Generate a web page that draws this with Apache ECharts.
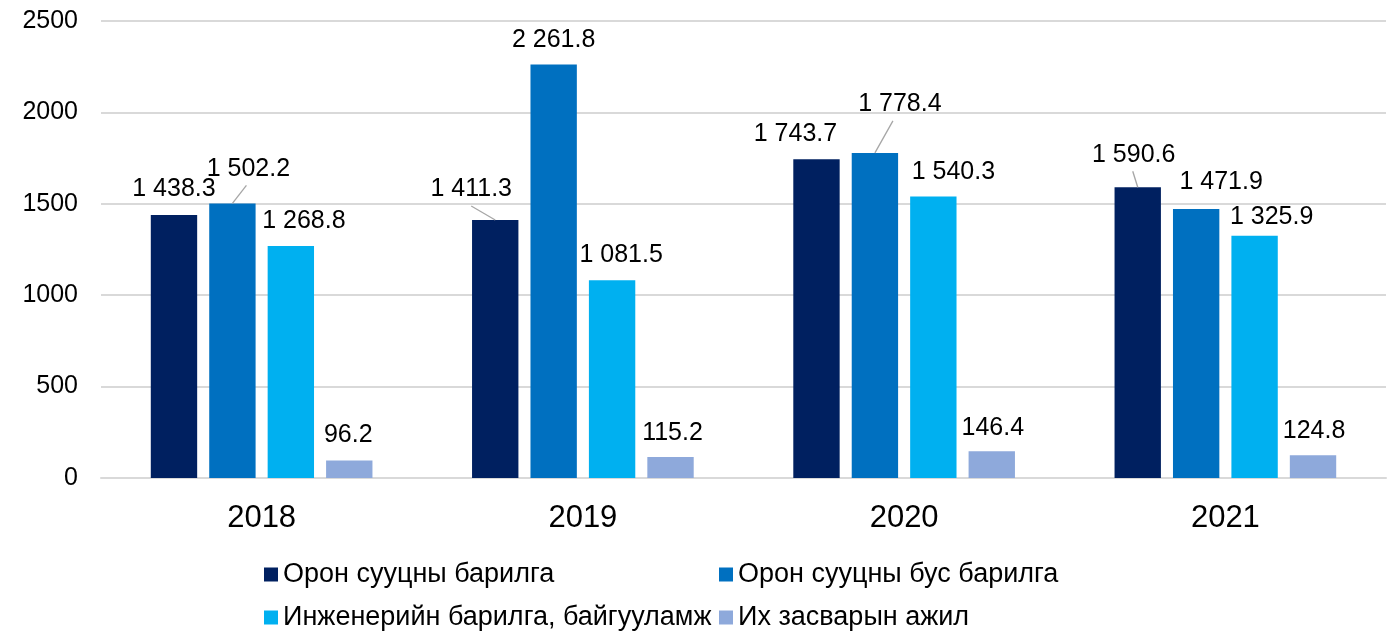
<!DOCTYPE html>
<html lang="mn">
<head>
    <meta charset="UTF-8">
    <title>Барилга угсралтын ажил</title>
    <script type="text/javascript" src="https://cdn.jsdelivr.net/npm/echarts@6/dist/echarts.min.js"></script>
    <style>
        html, body { margin: 0; padding: 0; background: #fff; }
        #chart { width: 1391px; height: 631px; }
    </style>
</head>
<body>
<div id="chart"></div>
<script type="text/javascript">
    var years = ['2018', '2019', '2020', '2021'];
    var seriesNames = ['Орон сууцны барилга', 'Орон сууцны бус барилга', 'Инженерийн барилга, байгууламж', 'Их засварын ажил'];
    var residential = [1438.3, 1411.3, 1743.7, 1590.6];
    var nonResidential = [1502.2, 2261.8, 1778.4, 1471.9];
    var engineering = [1268.8, 1081.5, 1540.3, 1325.9];
    var repair = [96.2, 115.2, 146.4, 124.8];
    var yTicks = [0, 500, 1000, 1500, 2000, 2500];
    var colors = ['#002060', '#0070C0', '#00B0F0', '#8EA9DB'];
    var allValues = [residential, nonResidential, engineering, repair];

    var BAR_GAP = 0.26, CAT_GAP = 0.31, LABEL_DIST = 11;

    // label nudges (series -> year -> [dx, dy, leader end x shift])
    var nudge = [
        [[0, -2, 0], [-24, -7, 0], [-21, -2, 0], [-4, -9, -1]],
        [[16, -11, -2], [0, -1, 0], [25, -25, -7], [25, -3, 0]],
        [[13, -1, 0], [9, -2, 0], [20, -1, 0], [17, 5, 0]],
        [[-1, -2, 0], [2, 0, 0], [1, 0, 0], [1, -1, 0]]
    ];
    // labels that get a leader line: [series, year]
    var leaders = [[1, 0], [0, 1], [1, 2], [0, 3]];

    function fmt(v) {
        var parts = v.toFixed(1).split('.');
        var intPart = parts[0].replace(/\B(?=(\d{3})+(?!\d))/g, ' ');
        return intPart + '.' + parts[1];
    }

    function makeSeries(idx, values) {
        return {
            name: seriesNames[idx],
            type: 'bar',
            barGap: (BAR_GAP * 100) + '%',
            barCategoryGap: (CAT_GAP * 100) + '%',
            itemStyle: { color: colors[idx] },
            label: {
                show: true,
                position: 'top',
                distance: LABEL_DIST,
                color: '#000',
                fontSize: 25,
                fontFamily: 'Liberation Sans, Arial, sans-serif',
                formatter: function (p) { return fmt(p.value); }
            },
            labelLayout: function (p) {
                var n = nudge[idx][p.dataIndex];
                return { dx: n[0], dy: n[1] };
            },
            data: values
        };
    }

    // leader lines: from the bar's top centre to just under its moved label
    function renderLeader(params, api) {
        var ld = leaders[params.dataIndex];
        var s = ld[0], i = ld[1];
        var top = api.coord([i, allValues[s][i]]);
        var band = api.size([1, 0])[0];
        var group = band * (1 - CAT_GAP);
        var bw = group / (4 + 3 * BAR_GAP);
        var cx = top[0] - group / 2 + s * bw * (1 + BAR_GAP) + bw / 2;
        var n = nudge[s][i];
        return {
            type: 'line',
            shape: {
                x1: cx, y1: top[1],
                x2: cx + n[0] + n[2], y2: top[1] - LABEL_DIST + n[1] + 4
            },
            style: { stroke: '#a6a6a6', lineWidth: 1.3 }
        };
    }

    var legendBase = {
        orient: 'vertical',
        top: 561,
        height: 90,
        padding: 0,
        itemGap: 16,
        itemWidth: 14,
        itemHeight: 14,
        icon: 'rect',
        textStyle: { fontSize: 27, lineHeight: 26, color: '#000' }
    };

    var mychart = echarts.init(document.getElementById('chart'));
    var option = {
        animation: false,
        textStyle: { fontFamily: 'Liberation Sans, Arial, sans-serif' },
        grid: { left: 101, right: 5, top: 21, bottom: 153 },
        legend: [
            Object.assign({}, legendBase, { data: [seriesNames[0], seriesNames[2]], left: 264 }),
            Object.assign({}, legendBase, { data: [seriesNames[1], seriesNames[3]], left: 719 })
        ],
        xAxis: {
            type: 'category',
            data: years,
            axisTick: { show: false },
            axisLine: { lineStyle: { color: '#d9d9d9', width: 2 } },
            axisLabel: { fontSize: 31, color: '#000', margin: 25 }
        },
        yAxis: {
            type: 'value',
            min: yTicks[0],
            max: yTicks[yTicks.length - 1],
            interval: yTicks[1] - yTicks[0],
            axisLabel: {
                fontSize: 25, color: '#000', margin: 23,
                formatter: function (v) { return String(v); }
            },
            splitLine: { lineStyle: { color: '#d9d9d9', width: 2 } }
        },
        series: [
            makeSeries(0, residential),
            makeSeries(1, nonResidential),
            makeSeries(2, engineering),
            makeSeries(3, repair),
            {
                name: 'leaders',
                type: 'custom',
                silent: true,
                z: 5,
                renderItem: renderLeader,
                data: leaders.map(function (ld) { return [ld[1], allValues[ld[0]][ld[1]]]; })
            }
        ]
    };
    mychart.setOption(option);
</script>
</body>
</html>
